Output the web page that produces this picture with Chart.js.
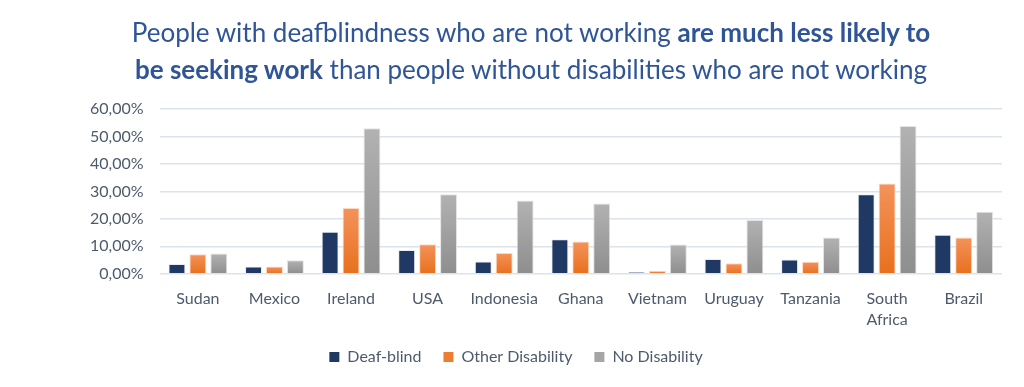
<!DOCTYPE html>
<html>
<head>
<meta charset="utf-8">
<script src="https://cdn.jsdelivr.net/npm/chart.js@4/dist/chart.umd.min.js"></script>
<style>
  html, body { margin: 0; padding: 0; background: #fff; }
  #wrap { position: relative; width: 1024px; height: 387px; }
  #title { position: absolute; left: 0; top: 14px; width: 1062px; text-align: center;
    font-family: Lato, "Open Sans", sans-serif; font-size: 26px; line-height: 37px; color: #2f5597; }
  #title b { font-weight: 700; }
  canvas { position: absolute; left: 0; top: 0; }
</style>
</head>
<body>
<div id="wrap">
  <canvas id="c" width="1024" height="387"></canvas>
  <div id="title">People with deafblindness who are not working <b>are much less likely to</b><br><b>be seeking work</b> than people without disabilities who are not working</div>
</div>
<script>
const categories = ["Sudan", "Mexico", "Ireland", "USA", "Indonesia", "Ghana", "Vietnam", "Uruguay", "Tanzania", ["South", "Africa"], "Brazil"];
const deafBlind = [3.6, 2.7, 15.3, 8.7, 4.5, 12.6, 0.6, 5.4, 5.2, 29.0, 14.2];
const otherDisability = [7.1, 2.7, 24.0, 10.8, 7.6, 11.8, 1.1, 3.8, 4.4, 32.9, 13.2];
const noDisability = [7.4, 4.9, 53.0, 29.0, 26.7, 25.6, 10.7, 19.6, 13.2, 53.8, 22.6];
const seriesNames = ["Deaf-blind", "Other Disability", "No Disability"];

function grad(top, bottom) {
  return function(ctx) {
    const chart = ctx.chart;
    const a = chart.chartArea;
    if (!a || ctx.type !== 'data') return bottom;
    const y0 = chart.scales.y.getPixelForValue(0);
    const y1 = chart.scales.y.getPixelForValue(ctx.raw || 0);
    if (y0 === y1) return bottom;
    const g = chart.ctx.createLinearGradient(0, y1, 0, y0);
    g.addColorStop(0, top);
    g.addColorStop(1, bottom);
    return g;
  };
}

const font = { family: "Lato, 'Open Sans', sans-serif", size: 16, lineHeight: 1.35 };
const textColor = '#4d5a6c';

const legendShift = {
  id: 'legendShift',
  afterLayout(chart) {
    const l = chart.legend;
    if (!l) return;
    l.top -= 12; l.bottom -= 12;
    l.left -= 22; l.right -= 22;
  }
};

new Chart(document.getElementById('c'), {
  type: 'bar',
  data: {
    labels: categories,
    datasets: [
      { label: seriesNames[0], data: deafBlind, backgroundColor: '#203864', borderColor: '#e8ecf3', borderWidth: 1 },
      { label: seriesNames[1], data: otherDisability, backgroundColor: grad('#f4935a', '#e8701e'), borderColor: '#fbd9c4', borderWidth: 1 },
      { label: seriesNames[2], data: noDisability, backgroundColor: grad('#b2b2b2', '#8e8e8e'), borderColor: '#e4e4e4', borderWidth: 1 }
    ]
  },
  plugins: [legendShift],
  options: {
    responsive: false,
    animation: false,
    layout: { padding: { top: 109, left: 74, right: 22, bottom: 0 } },
    datasets: { bar: { categoryPercentage: 0.82, barPercentage: 0.81 } },
    plugins: {
      title: { display: false },
      tooltip: { enabled: false },
      legend: {
        position: 'bottom',
        labels: {
          font: font, color: textColor, boxWidth: 10, boxHeight: 10, padding: 22,
          generateLabels: function(chart) {
            const cols = ['#203864', '#ed7d31', '#a5a5a5'];
            return chart.data.datasets.map((d, i) => ({
              text: d.label, fillStyle: cols[i], strokeStyle: cols[i], lineWidth: 0,
              hidden: false, datasetIndex: i, fontColor: textColor
            }));
          }
        }
      }
    },
    scales: {
      x: {
        grid: { display: false },
        border: { display: false },
        ticks: { font: font, color: textColor, padding: 6, maxRotation: 0, autoSkip: false },
        afterFit: s => { s.height += 2; }
      },
      y: {
        min: 0, max: 60,
        border: { display: false },
        grid: { color: '#dde3ea', lineWidth: 1.5, drawTicks: false },
        ticks: {
          stepSize: 10, font: font, color: textColor, padding: 16,
          callback: v => v.toFixed(2).replace('.', ',') + '%'
        }
      }
    }
  }
});
</script>
</body>
</html>
